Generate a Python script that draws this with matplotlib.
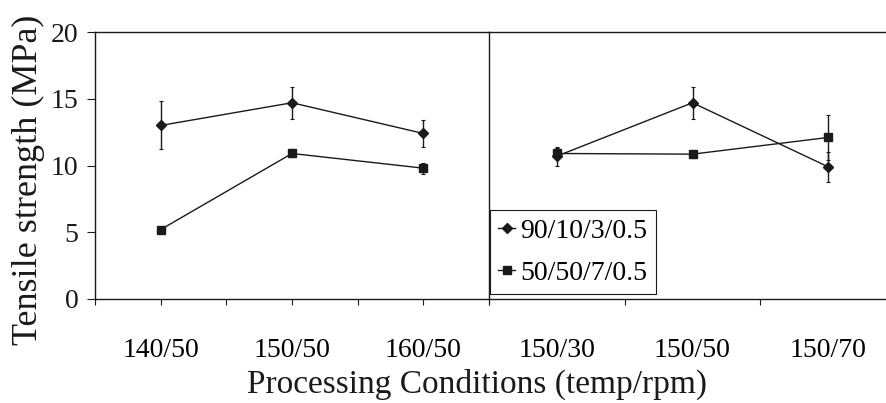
import numpy as np
import matplotlib.pyplot as plt
from matplotlib.lines import Line2D

plt.rcParams['font.family'] = ['Liberation Serif', 'DejaVu Serif']

# left panel: temperature series, right panel: rpm series
left_labels = ['140/50', '150/50', '160/50']
right_labels = ['150/30', '150/50', '150/70']

s1_name = '90/10/3/0.5'
s1_left = [13.0, 14.7, 12.4]
s1_left_err = [1.8, 1.2, 1.0]
s1_right = [10.7, 14.7, 9.9]
s1_right_err = [0.7, 1.2, 1.1]

s2_name = '50/50/7/0.5'
s2_left = [5.2, 10.9, 9.8]
s2_left_err = [0.2, 0.3, 0.4]
s2_right = [10.9, 10.85, 12.1]
s2_right_err = [0.4, 0.3, 1.7]

W, H = 886, 403
fig = plt.figure(figsize=(W / 100, H / 100), dpi=100)

x0, x_mid, x_end = 95, 489, 896
y_top, y_bot = 32, 299
ax1 = fig.add_axes([x0 / W, (H - y_bot) / H, (x_mid - x0) / W, (y_bot - y_top) / H])
ax2 = fig.add_axes([x_mid / W, (H - y_bot) / H, (x_end - x_mid) / W, (y_bot - y_top) / H])

col = '#1a1a1a'
style1 = dict(color=col, marker='D', ms=5, lw=1.0, elinewidth=1.0, capsize=1.5, capthick=0.8)
style2 = dict(color=col, marker='s', ms=5.5, lw=1.0, elinewidth=1.0, capsize=1.5, capthick=0.8)

xl = np.array([1, 3, 5])
ax1.errorbar(xl, s2_left, yerr=s2_left_err, **style2)
ax1.errorbar(xl, s1_left, yerr=s1_left_err, **style1)

xr = np.array([0.5, 1.5, 2.5])
ax2.errorbar(xr, s2_right, yerr=s2_right_err, **style2)
ax2.errorbar(xr, s1_right, yerr=s1_right_err, **style1)

for ax in (ax1, ax2):
    ax.set_ylim(0, 20)
    ax.xaxis.remove_overlapping_locs = False
    for sp in ax.spines.values():
        sp.set_linewidth(1.0)
        sp.set_color(col)
    ax.tick_params(axis='x', which='major', direction='out', length=4.5, width=0.8, labelbottom=False, colors=col)
    ax.tick_params(axis='x', which='minor', length=0, pad=28, labelsize=20)

ax1.set_xlim(0, 6)
ax1.set_xticks(np.arange(0, 7))
ax1.set_xticks(xl, minor=True)
ax1.set_xticklabels(left_labels, minor=True)
ax1.set_yticks([0, 5, 10, 15, 20])
ax1.tick_params(axis='y', direction='out', length=6, width=0.8, pad=6, labelsize=20, colors=col)
ax1.spines['right'].set_visible(False)

ax2.set_xlim(0, 3)
ax2.set_xticks(np.arange(0, 4))
ax2.set_xticks(xr, minor=True)
ax2.set_xticklabels(right_labels, minor=True)
ax2.set_yticks([])

handles = [Line2D([], [], color=col, marker='D', ms=5, lw=1.0),
           Line2D([], [], color=col, marker='s', ms=5.5, lw=1.0)]
leg = ax2.legend(handles, [s1_name, s2_name], loc='lower left',
                 bbox_to_anchor=(490 / W, (H - 294) / H), bbox_transform=fig.transFigure,
                 borderaxespad=0, fancybox=False, framealpha=1, edgecolor=col,
                 fontsize=20, handlelength=0.6, handletextpad=0.2, labelspacing=0.6,
                 borderpad=0.3)
leg.get_frame().set_linewidth(0.8)

fig.text(477 / W, (H - 393) / H, 'Processing Conditions (temp/rpm)', ha='center', va='baseline',
         fontsize=24, color=col)
fig.text(28 / W, (H - 180) / H, 'Tensile strength (MPa)', ha='center', va='center',
         rotation=90, fontsize=26, color=col)

fig.savefig('out.png', dpi=100)
